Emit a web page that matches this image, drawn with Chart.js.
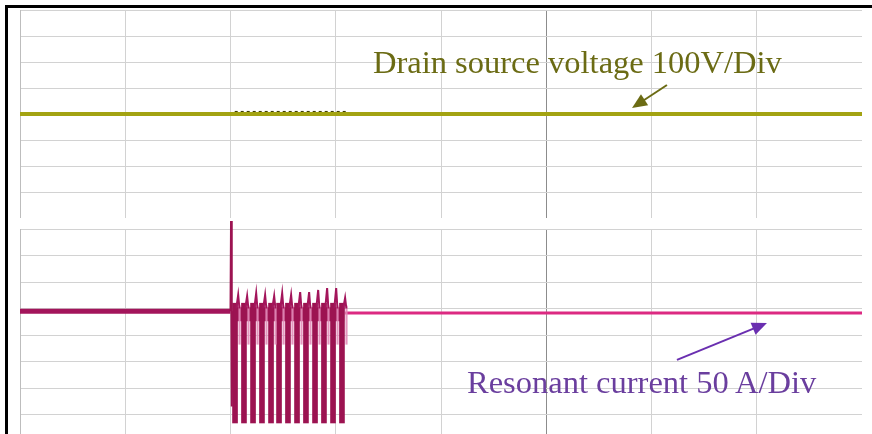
<!DOCTYPE html>
<html lang="en">
<head>
    <meta charset="UTF-8">
    <title>Drain source voltage and resonant current</title>
    <script src="https://cdn.jsdelivr.net/npm/chart.js"></script>
    <style>
        html, body { margin: 0; padding: 0; background: #fff; overflow: hidden; }
        body { width: 872px; height: 434px; position: relative; }
        #frame { position: absolute; left: 5px; top: 5px; width: 872px; height: 440px;
                 border-left: 3px solid #000; border-top: 3px solid #000; }
        .panel { position: absolute; left: 20px; width: 842px; }
        #p1 { top: 10px; height: 208px; }
        /* 10px of headroom above the panel so the first spike can poke out */
        #p2 { top: 219px; height: 222px; }
        .label { position: absolute; font-family: "Liberation Serif", serif; font-size: 32.5px;
                 line-height: 32.5px; white-space: nowrap; }
        #vLabel { left: 373px; top: 46px; color: #6b6b14; }
        #iLabel { left: 467px; top: 366px; color: #6a3e9e; }
    </style>
</head>
<body>
<div id="frame"></div>
<div class="panel" id="p1"><canvas id="voltChart"></canvas></div>
<div class="panel" id="p2"><canvas id="currChart"></canvas></div>
<div class="label" id="vLabel">Drain source voltage 100V/Div</div>
<div class="label" id="iLabel">Resonant current 50 A/Div</div>

<script>
    // time axis in divisions (8 div across), amplitude in divisions
    const voltX = [0, 8];
    const voltY = [0, 0];
    // darker ripple on the voltage trace while the current pulses run
    const rippleX = [2.04, 3.10];
    const rippleY = [0.06, 0.06];

    // current trace before the burst
    const idleX = [0, 2.0];
    const idleY = [0.9, 0.9];
    // first spike at the start of the burst
    const startX = [2.0, 2.005, 2.012, 2.02];
    const startY = [0.9, 4.3, -2.7, 0.9];
    // burst pulses: centres, lows and spike tops
    const pulseX = [2.043, 2.128, 2.214, 2.299, 2.385, 2.461, 2.546, 2.632, 2.717, 2.803, 2.888, 2.974, 3.059];
    const pulseLow = [-3.32, -3.32, -3.32, -3.32, -3.32, -3.32, -3.32, -3.32, -3.32, -3.32, -3.32, -3.32, -3.32];
    const pulseTop = [1.51, 1.47, 1.58, 1.51, 1.47, 1.58, 1.51, 1.62, 1.62, 1.70, 1.77, 1.77, 1.40];
    const pulseBody = 1.2;
    // band where the pulses overlap near the baseline
    const bandX = [2.03, 3.08];
    const bandY = [0.78, 0.78];
    // current trace after the burst
    const afterX = [3.09, 8];
    const afterY = [0.83, 0.83];

    function pts(xs, ys) {
        return xs.map((x, i) => ({ x: x, y: ys[i] }));
    }

    const gridColor = ctx => ctx.tick && ctx.tick.value === 5 ? '#8c8c8c' : '#d2d2d2';

    function axes(ymin, ymax) {
        return {
            x: {
                type: 'linear', min: 0, max: 8, offset: false,
                ticks: { display: false, stepSize: 1 },
                grid: { color: gridColor, drawTicks: false, lineWidth: 1, offset: false },
                border: { display: true, color: '#bdbdbd' }
            },
            y: {
                type: 'linear', min: ymin, max: ymax,
                ticks: { display: false, stepSize: 1 },
                grid: { color: '#d2d2d2', drawTicks: false, lineWidth: 1 },
                border: { display: true, color: '#bdbdbd' }
            }
        };
    }

    // arrow from tail to tip, in data units of the chart
    function arrowPlugin(tail, tip, color) {
        return {
            id: 'arrow',
            afterDatasetsDraw(chart) {
                const c = chart.ctx, xs = chart.scales.x, ys = chart.scales.y;
                const x0 = xs.getPixelForValue(tail[0]), y0 = ys.getPixelForValue(tail[1]);
                const x1 = xs.getPixelForValue(tip[0]), y1 = ys.getPixelForValue(tip[1]);
                const a = Math.atan2(y1 - y0, x1 - x0);
                c.save();
                c.strokeStyle = color; c.fillStyle = color; c.lineWidth = 2;
                c.beginPath();
                c.moveTo(x0, y0);
                c.lineTo(x1 - 10 * Math.cos(a), y1 - 10 * Math.sin(a));
                c.stroke();
                c.beginPath();
                c.moveTo(x1, y1);
                c.lineTo(x1 - 15 * Math.cos(a) + 6.5 * Math.sin(a), y1 - 15 * Math.sin(a) - 6.5 * Math.cos(a));
                c.lineTo(x1 - 15 * Math.cos(a) - 6.5 * Math.sin(a), y1 - 15 * Math.sin(a) + 6.5 * Math.cos(a));
                c.closePath();
                c.fill();
                c.restore();
            }
        };
    }

    function options(padTop) {
        return {
            responsive: true,
            maintainAspectRatio: false,
            animation: false,
            layout: { padding: { top: padTop, left: 0, right: 0, bottom: 0 }, autoPadding: false },
            plugins: { legend: { display: false }, tooltip: { enabled: false } },
            elements: { point: { radius: 0 }, line: { tension: 0 } },
            scales: axes(-4, 4)
        };
    }

    // top panel: drain source voltage
    new Chart(document.getElementById('voltChart'), {
        type: 'line',
        data: {
            datasets: [
                { data: pts(voltX, voltY), borderColor: '#a3a312', borderWidth: 4 },
                { data: pts(rippleX, rippleY), borderColor: '#3e3e06', borderWidth: 3, borderDash: [3, 3] }
            ]
        },
        options: options(0),
        plugins: [arrowPlugin([6.147, 1.115], [5.815, 0.23], '#6b6b14')]
    });

    // spikes on top of each pulse
    const spikes = [];
    pulseX.forEach((x, i) => {
        spikes.push({ x: x + 0.012, y: 1.0 }, { x: x + 0.03, y: pulseTop[i] }, { x: x + 0.042, y: 1.0 }, { x: x + 0.044, y: null });
    });

    // bottom panel: resonant current
    new Chart(document.getElementById('currChart'), {
        type: 'bar',
        data: {
            datasets: [
                { type: 'line', data: pts(idleX, idleY), borderColor: '#a3155b', borderWidth: 5, order: 6 },
                { type: 'line', data: pts(afterX, afterY), borderColor: '#dc2a82', borderWidth: 3, order: 6 },
                { type: 'line', data: pts(bandX, bandY), borderColor: '#a31a5a', borderWidth: 14, order: 5 },
                { type: 'bar', data: pulseX.map((x, i) => ({ x: x, y: [pulseLow[i], pulseBody] })),
                  backgroundColor: '#9c1351', barThickness: 5, grouped: false, order: 4 },
                { type: 'bar', data: pulseX.map(x => ({ x: x + 0.043, y: [-0.35, 1.1] })),
                  backgroundColor: 'rgba(226,140,184,0.9)', barThickness: 1.5, grouped: false, order: 3 },
                { type: 'line', data: spikes, borderColor: '#a3155b', borderWidth: 2, spanGaps: false, order: 2 },
                { type: 'line', data: pts(startX, startY), borderColor: '#9c1351', borderWidth: 2, clip: false, order: 1 },
                { type: 'scatter', data: [{ x: startX[1], y: startY[1] - 0.1 }], pointStyle: 'triangle',
                  pointRadius: 3, backgroundColor: '#c9c228', borderWidth: 0, clip: false, order: 0 }
            ]
        },
        options: options(10),
        plugins: [arrowPlugin([6.242, -0.94], [7.097, 0.45], '#6a2fb0')]
    });
</script>
</body>
</html>
